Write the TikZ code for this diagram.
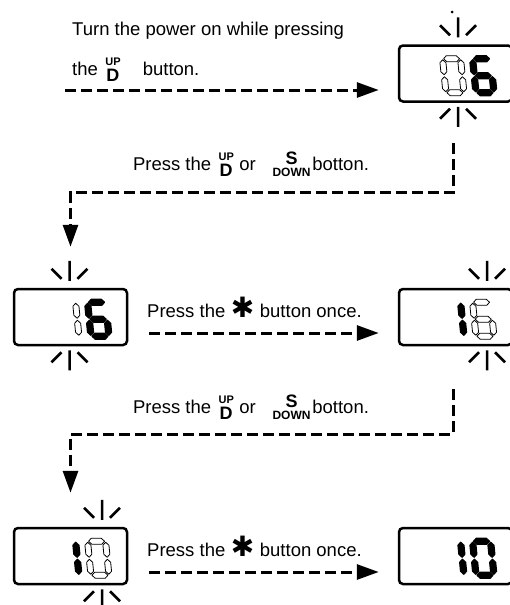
\documentclass[tikz,border=0pt]{standalone}
\usepackage{fontspec}
\setmainfont{Liberation Sans}
\newfontfamily\symbolfont{DejaVu Sans}
\usetikzlibrary{arrows.meta,positioning,calc}

\newcommand{\keyUD}{\raisebox{-6pt}{\shortstack{\fontsize{11}{11}\selectfont\bfseries UP\\\fontsize{18}{18}\selectfont\bfseries D}}}
\newcommand{\keySD}{\raisebox{-6pt}{\shortstack{\fontsize{18}{18}\selectfont\bfseries S\\\fontsize{12}{12}\selectfont\bfseries DOWN}}}
\newcommand{\keyStar}{\hspace{0.3em}{\symbolfont\fontsize{28}{28}\selectfont ✱}\hspace{0.3em}}

\tikzset{
	lcd/.style={draw,rounded corners=4pt,line width=2.5pt,minimum width=113pt,minimum height=56pt,inner sep=0pt},
	lcdon/.style={fill=black,draw=black,line width=1.2pt,line join=round},
	lcdoff/.style={fill=white,draw=black,line width=0.8pt,line join=round},
	ray/.style={line width=2.5pt},
	flow/.style={line width=3pt,dash pattern=on 11pt off 5pt,-{Triangle[length=22pt,width=15pt]}},
	say/.style={font=\fontsize{18.5}{22}\selectfont,inner sep=0pt},
	% segments of one lcd digit, x to the right and y up
	lcd seg a/.pic={\path[pic actions] (4,37) -- (7,40) -- (17,40) -- (20,37) -- (17,34) -- (7,34) -- cycle;},
	lcd seg g/.pic={\path[pic actions] (4,20) -- (7,23) -- (17,23) -- (20,20) -- (17,17) -- (7,17) -- cycle;},
	lcd seg d/.pic={\path[pic actions] (4,3) -- (7,6) -- (17,6) -- (20,3) -- (17,0) -- (7,0) -- cycle;},
	lcd seg f/.pic={\path[pic actions] (3,21) -- (6,24) -- (6,33) -- (3,36) -- (0,33) -- (0,24) -- cycle;},
	lcd seg b/.pic={\path[pic actions] (21,21) -- (24,24) -- (24,33) -- (21,36) -- (18,33) -- (18,24) -- cycle;},
	lcd seg e/.pic={\path[pic actions] (3,4) -- (6,7) -- (6,16) -- (3,19) -- (0,16) -- (0,7) -- cycle;},
	lcd seg c/.pic={\path[pic actions] (21,4) -- (24,7) -- (24,16) -- (21,19) -- (18,16) -- (18,7) -- cycle;},
	% blinking marks
	blink up/.pic={\draw[ray] (0,-7) -- (0,-27) (-8,-9) -- (-18,-19) (8,-9) -- (18,-19);},
	blink down/.pic={\draw[ray] (0,4) -- (0,24) (-8,6) -- (-18,16) (8,6) -- (18,16);}
}

% #1 = lower left corner, #2 = segments, #3 = style
\newcommand{\lcddigit}[3]{%
	\begin{scope}[shift={#1},yscale=-1,xslant=0.1]
		\foreach \s in {#2} {\pic[#3,transform shape] {lcd seg \s};}
	\end{scope}}

\begin{document}
\begin{tikzpicture}[x=1pt,y=-1pt]
	\useasboundingbox (0,0) rectangle (510,605);
	\clip (0,0) rectangle (510,605);

	\node[lcd] (disp06) at (455.5,73.5) {};
	\node[lcd] (disp16a) at (70.5,317) {};
	\node[lcd] (disp16b) at (455.5,317) {};
	\node[lcd] (disp10a) at (70.5,556) {};
	\node[lcd] (disp10b) at (455.5,556) {};

	% 06
	\lcddigit{($(disp06.south east)+(-70,-7)$)}{a,b,c,d,e,f}{lcdoff}
	\lcddigit{($(disp06.south east)+(-40,-7)$)}{a,c,d,e,f,g}{lcdon}
	% 16
	\lcddigit{($(disp16a.south east)+(-70,-7)$)}{b,c}{lcdoff}
	\lcddigit{($(disp16a.south east)+(-40,-7)$)}{a,c,d,e,f,g}{lcdon}
	\lcddigit{($(disp16b.south east)+(-70,-7)$)}{b,c}{lcdon}
	\lcddigit{($(disp16b.south east)+(-40,-7)$)}{a,c,d,e,f,g}{lcdoff}
	% 10
	\lcddigit{($(disp10a.south east)+(-70,-7)$)}{b,c}{lcdon}
	\lcddigit{($(disp10a.south east)+(-40,-7)$)}{a,b,c,d,e,f}{lcdoff}
	\lcddigit{($(disp10b.south east)+(-70,-7)$)}{b,c}{lcdon}
	\lcddigit{($(disp10b.south east)+(-40,-7)$)}{a,b,c,d,e,f}{lcdon}

	\pic at ($(disp06.north)+(2.5,0)$) {blink up};
	\pic at ($(disp06.south)+(2.5,0)$) {blink down};
	\pic at ($(disp16a.north)+(-1,0)$) {blink up};
	\pic at ($(disp16a.south)+(-1,0)$) {blink down};
	\pic at ($(disp16b.north)+(31.5,0)$) {blink up};
	\pic at ($(disp16b.south)+(31.5,0)$) {blink down};
	\pic at ($(disp10a.north)+(31.5,0)$) {blink up};
	\pic at ($(disp10a.south)+(31.5,0)$) {blink down};
	\fill (452,12) circle (1.5pt);

	\node[say,anchor=base west] (turnon) at (72,35) {Turn the power on while pressing};
	\node[say,anchor=base west] (holdud) at (72,75) {the\hspace{0.4em}\keyUD\hspace{1.2em}button.};
	\node[say,anchor=base] (pressud1) at (251,170) {Press the\hspace{0.4em}\keyUD\hspace{0.3em}or\hspace{0.9em}\keySD\hspace{0.1em}botton.};
	\node[say,anchor=base west] (pressstar1) at (147,317) {Press the\keyStar button once.};
	\node[say,anchor=base] (pressud2) at (251,413) {Press the\hspace{0.4em}\keyUD\hspace{0.3em}or\hspace{0.9em}\keySD\hspace{0.1em}botton.};
	\node[say,anchor=base west] (pressstar2) at (147,556) {Press the\keyStar button once.};

	\coordinate (poweron) at (65,90);
	\draw[flow,shorten >=19pt] (poweron) -- (poweron -| disp06.west);
	\draw[flow] ($(disp06.south)+(-2.5,40)$) -- ++(0,50) -| ($(disp16a.north)+(0,-41)$);
	\draw[flow,shorten <=21pt,shorten >=19pt] ($(disp16a.east)+(0,16)$) -- ($(disp16b.west)+(0,16)$);
	\draw[flow] ($(disp16b.south)+(-2.5,43)$) -- ++(0,45) -| ($(disp10a.north)+(0,-34)$);
	\draw[flow,shorten <=21pt,shorten >=19pt] ($(disp10a.east)+(0,16)$) -- ($(disp10b.west)+(0,16)$);
\end{tikzpicture}
\end{document}
